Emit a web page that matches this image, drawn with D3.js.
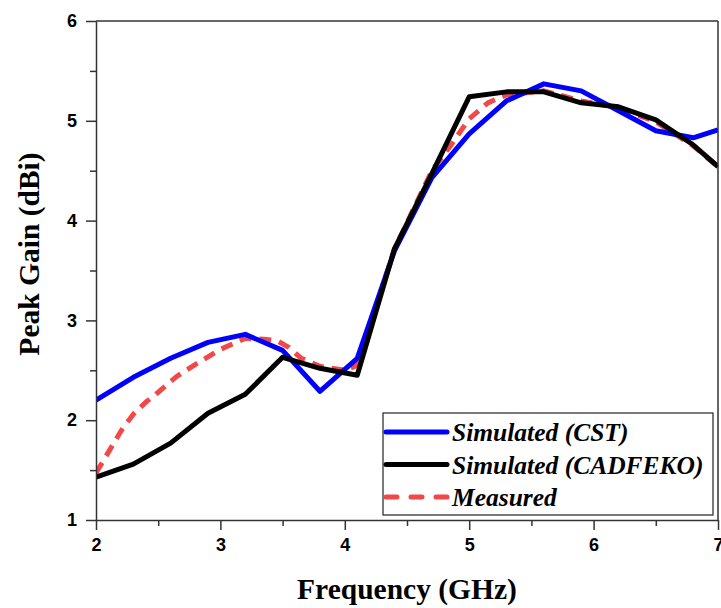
<!DOCTYPE html>
<html>
<head>
<meta charset="utf-8">
<script src="https://cdn.jsdelivr.net/npm/d3@7"></script>
<style>
  body { margin: 0; background: #fff; }
  svg { display: block; }
</style>
</head>
<body>
<div id="chart"></div>
<script>
// Data
const freqSim = [2.0, 2.3, 2.6, 2.9, 3.2, 3.5, 3.8, 4.1, 4.4, 4.7, 5.0, 5.3, 5.6, 5.9, 6.2, 6.5, 6.8, 7.0];
const gainCST = [2.2, 2.43, 2.62, 2.78, 2.86, 2.7, 2.29, 2.62, 3.7, 4.43, 4.87, 5.2, 5.37, 5.3, 5.1, 4.9, 4.83, 4.91];
const gainFEKO = [1.43, 1.56, 1.77, 2.07, 2.26, 2.63, 2.52, 2.45, 3.72, 4.47, 5.24, 5.29, 5.29, 5.18, 5.14, 5.01, 4.76, 4.54];

const freqMeas = [2.0, 2.1, 2.2, 2.3, 2.4, 2.5, 2.65, 2.8, 3.0, 3.2, 3.35, 3.45, 3.55, 3.65, 3.8, 4.0, 4.1, 4.4, 4.7, 4.85, 5.0, 5.15, 5.3, 5.6, 5.9, 6.2, 6.5, 6.8, 7.0];
const gainMeas = [1.47, 1.68, 1.89, 2.06, 2.18, 2.28, 2.44, 2.56, 2.71, 2.82, 2.81, 2.8, 2.73, 2.62, 2.54, 2.5, 2.55, 3.72, 4.5, 4.75, 5.02, 5.18, 5.26, 5.3, 5.2, 5.13, 4.99, 4.75, 4.54];

const xTicks = [2, 3, 4, 5, 6, 7];
const yTicks = [1, 2, 3, 4, 5, 6];

const series = [
    { name: 'Simulated (CST)', x: freqSim, y: gainCST, color: '#0000ff', dash: null },
    { name: 'Simulated (CADFEKO)', x: freqSim, y: gainFEKO, color: '#000000', dash: null },
    { name: 'Measured', x: freqMeas, y: gainMeas, color: '#f24848', dash: '12,8' }
];

const W = 721, H = 608;
const margin = { top: 21, right: 3, bottom: 88, left: 96 };
const width = W - margin.left - margin.right;
const height = H - margin.top - margin.bottom;

const svg = d3.select('#chart').append('svg')
    .attr('width', W)
    .attr('height', H);

const g = svg.append('g')
    .attr('transform', `translate(${margin.left},${margin.top})`);

const x = d3.scaleLinear().domain([2, 7]).range([0, width]);
const y = d3.scaleLinear().domain([1, 6]).range([height, 0]);

// clip the curves to the frame
svg.append('defs').append('clipPath').attr('id', 'plot-clip')
    .append('rect').attr('width', width).attr('height', height);

const line = d3.line()
    .x(d => x(d[0]))
    .y(d => y(d[1]));

const curves = g.append('g').attr('clip-path', 'url(#plot-clip)');

// draw measured under the simulated ones, like the original
[series[2], series[0], series[1]].forEach(s => {
    curves.append('path')
        .datum(s.x.map((v, i) => [v, s.y[i]]))
        .attr('fill', 'none')
        .attr('stroke', s.color)
        .attr('stroke-width', 5)
        .attr('stroke-linejoin', 'round')
        .attr('stroke-dasharray', s.dash)
        .attr('d', line);
});

// frame: top and right plain lines
g.append('line').attr('x1', 0).attr('x2', width).attr('y1', 0).attr('y2', 0)
    .attr('stroke', '#333').attr('stroke-width', 1.5);
g.append('line').attr('x1', width).attr('x2', width).attr('y1', 0).attr('y2', height)
    .attr('stroke', '#333').attr('stroke-width', 1.5);

// Legend
const legend = g.append('g').attr('transform', `translate(${x(2) + 287},${y(1) - 107})`);
legend.append('rect')
    .attr('width', 330).attr('height', 102)
    .attr('fill', '#fff')
    .attr('stroke', '#333').attr('stroke-width', 1.3);

series.forEach((s, i) => {
    const ly = 19 + i * 32.5;
    legend.append('line')
        .attr('x1', 3).attr('x2', 64)
        .attr('y1', ly).attr('y2', ly)
        .attr('stroke', s.color)
        .attr('stroke-width', 5)
        .attr('stroke-linecap', 'round')
        .attr('stroke-dasharray', s.dash ? '11,14' : null);
    legend.append('text')
        .attr('x', 69)
        .attr('y', ly + 9)
        .attr('font-family', 'Liberation Serif, Times New Roman, serif')
        .attr('font-style', 'italic')
        .attr('font-weight', 'bold')
        .attr('font-size', '25.5px')
        .attr('fill', '#000')
        .text(s.name);
});

// Axes
const minorX = d3.range(2.5, 7, 1);
const minorY = d3.range(1.5, 6, 1);

const styleAxis = ax => {
    ax.select('.domain').attr('stroke', '#333').attr('stroke-width', 1.5);
    ax.selectAll('line').attr('stroke', '#333').attr('stroke-width', 1.5);
    ax.selectAll('text')
        .attr('font-family', 'Liberation Sans, Arial, sans-serif')
        .attr('font-weight', 'bold')
        .attr('font-size', '18px')
        .attr('fill', '#000');
};

g.append('g')
    .attr('transform', `translate(0,${height})`)
    .call(d3.axisBottom(x).tickValues(minorX).tickSize(6).tickFormat(''))
    .call(ax => ax.select('.domain').remove())
    .call(styleAxis);

g.append('g')
    .attr('transform', `translate(0,${height})`)
    .call(d3.axisBottom(x).tickValues(xTicks).tickSize(10).tickSizeOuter(0).tickPadding(8).tickFormat(d3.format('d')))
    .call(styleAxis);

g.append('g')
    .call(d3.axisLeft(y).tickValues(minorY).tickSize(6).tickFormat(''))
    .call(ax => ax.select('.domain').remove())
    .call(styleAxis);

g.append('g')
    .call(d3.axisLeft(y).tickValues(yTicks).tickSize(10).tickSizeOuter(0).tickPadding(9).tickFormat(d3.format('d')))
    .call(styleAxis);

// Axis titles
svg.append('text')
    .attr('x', margin.left + width / 2)
    .attr('y', 599)
    .attr('text-anchor', 'middle')
    .attr('font-family', 'Liberation Serif, Times New Roman, serif')
    .attr('font-weight', 'bold')
    .attr('font-size', '29.5px')
    .attr('fill', '#000')
    .text('Frequency (GHz)');

svg.append('text')
    .attr('transform', 'translate(39,254) rotate(-90)')
    .attr('text-anchor', 'middle')
    .attr('font-family', 'Liberation Serif, Times New Roman, serif')
    .attr('font-weight', 'bold')
    .attr('font-size', '29.5px')
    .attr('fill', '#000')
    .text('Peak Gain (dBi)');
</script>
</body>
</html>
